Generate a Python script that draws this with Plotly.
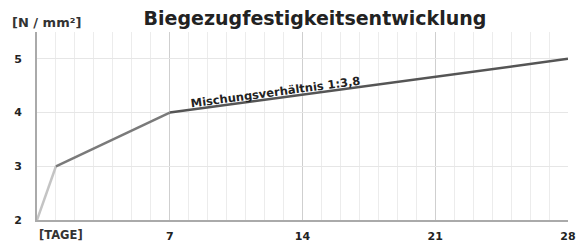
import plotly.graph_objects as go

days = [0, 1, 7, 28]
strength = [2, 3, 4, 5]
x_ticks = [7, 14, 21, 28]
y_ticks = [2, 3, 4, 5]
seg_colors = ["#c4c4c4", "#7a7a7a", "#555555"]

FONT = "DejaVu Sans"
fig = go.Figure()
for i in range(3):
    fig.add_trace(go.Scatter(x=days[i:i+2], y=strength[i:i+2], mode="lines",
                             line=dict(color=seg_colors[i], width=2.5),
                             showlegend=False, hoverinfo="skip", cliponaxis=False))

fig.update_layout(
    width=577, height=244,
    margin=dict(l=37, r=9, t=32, b=24, autoexpand=False),
    paper_bgcolor="white", plot_bgcolor="white",
    font=dict(family=FONT, color="#222"),
    title=dict(text="<b>Biegezugfestigkeitsentwicklung</b>", x=315/577, xanchor="center",
               y=1 - 18/244, yanchor="middle", font=dict(size=19, family=FONT, color="#222")),
)
fig.update_xaxes(range=[0, 28], tickvals=x_ticks, ticktext=[f"<b>{t}</b>" for t in x_ticks],
                 tickfont=dict(size=11, family=FONT, color="#222"),
                 showgrid=True, gridcolor="#cfcfcf", gridwidth=1,
                 minor=dict(dtick=1, tick0=0, showgrid=True, gridcolor="#ececec", gridwidth=1),
                 showline=True, linecolor="#aaaaaa", linewidth=2, zeroline=False,
                 ticks="", ticklabelstandoff=5, automargin=False)
fig.update_yaxes(range=[2, 5.5], tickvals=y_ticks, ticktext=[f"<b>{t}</b>" for t in y_ticks],
                 tickfont=dict(size=11, family=FONT, color="#222"),
                 showgrid=True, gridcolor="#e6e6e6", gridwidth=1,
                 showline=True, linecolor="#aaaaaa", linewidth=2, zeroline=False,
                 ticks="", ticklabelstandoff=11, automargin=False)

fig.add_annotation(text="<b>[N / mm²]</b>", xref="paper", yref="paper",
                   x=-27/531, y=1 + 10/188, xanchor="left", yanchor="middle",
                   showarrow=False, font=dict(size=13, family=FONT, color="#333"))
fig.add_annotation(text="<b>[TAGE]</b>", xref="paper", yref="paper",
                   x=0, y=-15/188, xanchor="left", yanchor="middle",
                   showarrow=False, font=dict(size=11.5, family=FONT, color="#333"))
fig.add_annotation(text="<b>Mischungsverhältnis 1:3,8</b>", xref="x", yref="y",
                   x=12.6, y=4.38, showarrow=False, textangle=-7.7,
                   font=dict(size=11.5, family=FONT, color="#222"))

fig.write_html("out.html", config={"displayModeBar": False},
               post_script="document.body.style.margin='0';")
